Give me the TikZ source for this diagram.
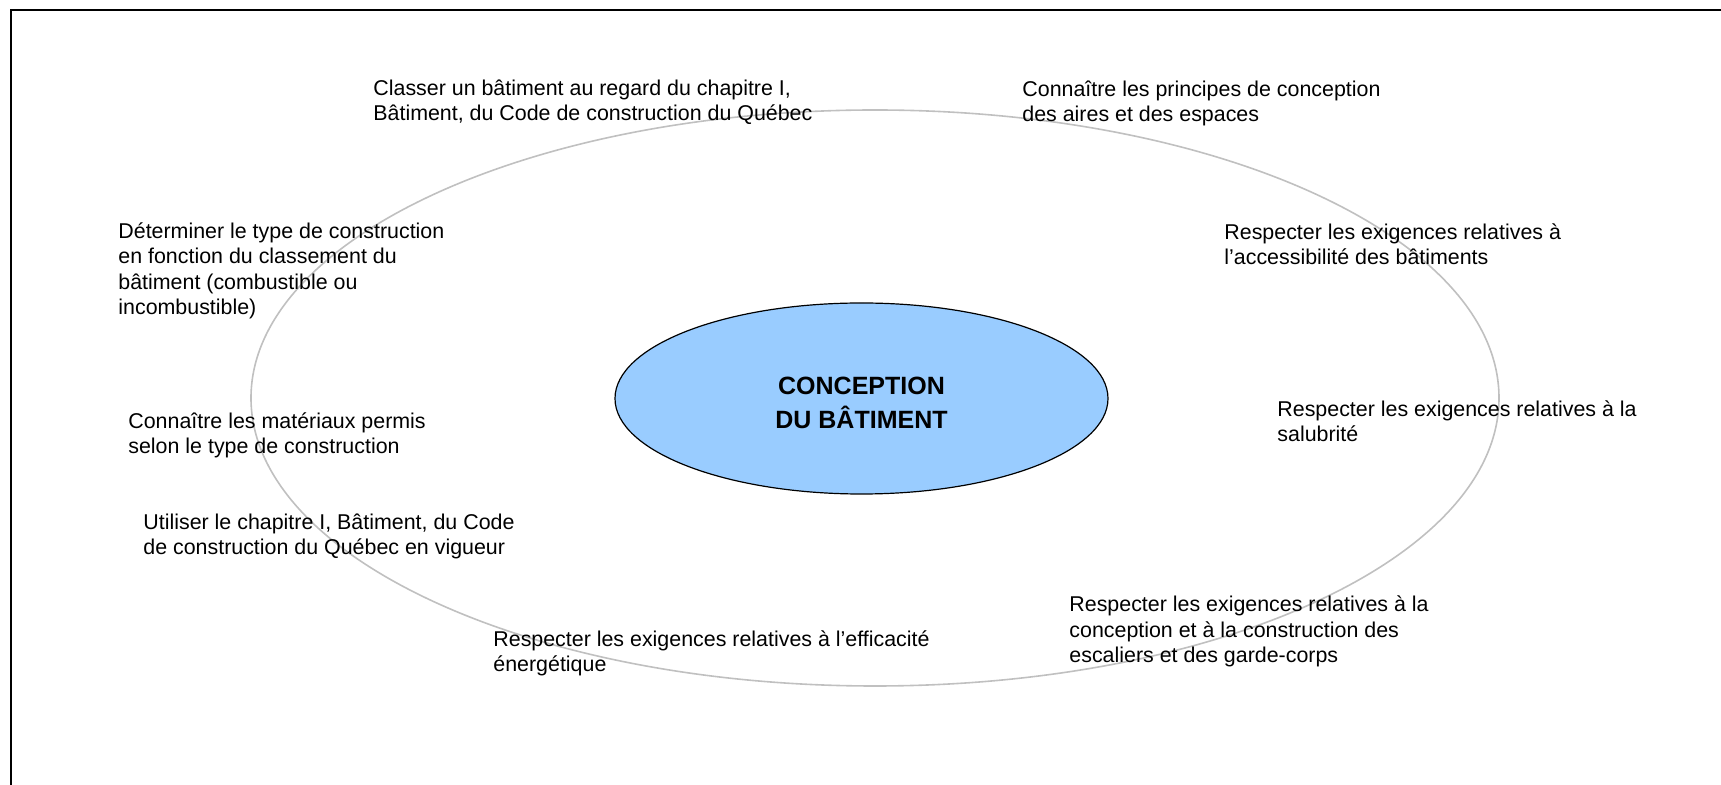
\documentclass[tikz,border=0pt]{standalone}
\usepackage{fontspec}
\setmainfont{Liberation Sans}
\usetikzlibrary{shapes.geometric}

\definecolor{coreblue}{HTML}{99CCFF}
\definecolor{ringgray}{HTML}{C0C0C0}

\tikzset{
  goal/.style={anchor=base west, inner sep=0pt, align=left,
    font=\fontsize{10.7}{12.75}\selectfont},
  core/.style={ellipse, draw, line width=0.6pt, fill=coreblue, inner sep=0pt,
    minimum width=246.5pt, minimum height=95.5pt, align=center,
    text height=30pt, font=\fontsize{12.5}{17}\selectfont\bfseries}
}

\begin{document}
\begin{tikzpicture}[x=0.5pt,y=-0.5pt]
    \useasboundingbox (0,0) rectangle (1721,785);
    \draw[line width=1pt] (11,785) -- (11,10) -- (1721,10);

    \draw[ringgray, line width=0.8pt] (875,398) ellipse (624 and 288);

    \node[core] (core) at (861.5,398.5) {CONCEPTION\\DU BÂTIMENT};

    % goals, placed at the baseline of their last line
    \node[goal] (classer) at (373,121) {Classer un bâtiment au regard du chapitre I,\\Bâtiment, du Code de construction du Québec};
    \node[goal] (aires) at (1022,122) {Connaître les principes de conception\\des aires et des espaces};
    \node[goal] (type) at (118,315) {Déterminer le type de construction\\en fonction du classement du\\bâtiment (combustible ou\\incombustible)};
    \node[goal] (acces) at (1224,265) {Respecter les exigences relatives à\\l’accessibilité des bâtiments};
    \node[goal] (materiaux) at (128,454) {Connaître les matériaux permis\\selon le type de construction};
    \node[goal] (salubrite) at (1277,442) {Respecter les exigences relatives à la\\salubrité};
    \node[goal] (code) at (143,555) {Utiliser le chapitre I, Bâtiment, du Code\\de construction du Québec en vigueur};
    \node[goal] (escaliers) at (1069,663) {Respecter les exigences relatives à la\\conception et à la construction des\\escaliers et des garde-corps};
    \node[goal] (energie) at (493,672) {Respecter les exigences relatives à l’efficacité\\énergétique};
\end{tikzpicture}
\end{document}
